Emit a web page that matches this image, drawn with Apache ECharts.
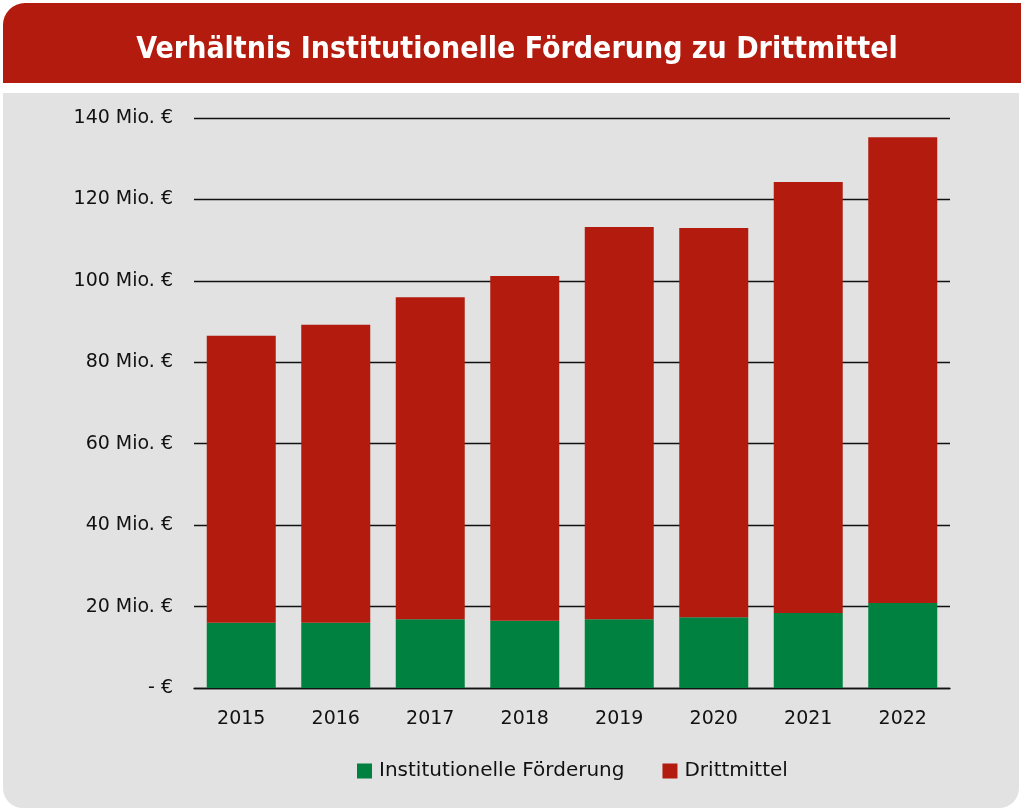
<!DOCTYPE html>
<html>
<head>
<meta charset="utf-8">
<script src="https://cdn.jsdelivr.net/npm/echarts@6/dist/echarts.min.js"></script>
<style>
  html, body { margin: 0; padding: 0; background: #ffffff; }
  #chart { width: 1021px; height: 810px; }
</style>
</head>
<body>
<div id="chart"></div>
<script>
  // data
  var years = ['2015', '2016', '2017', '2018', '2019', '2020', '2021', '2022']
  var institutionell = [16.0, 16.0, 16.9, 16.5, 16.9, 17.4, 18.4, 20.9]
  var drittmittel = [70.5, 73.2, 79.1, 84.7, 96.3, 95.6, 105.9, 114.4]
  var yTicks = [0, 20, 40, 60, 80, 100, 120, 140]

  var red = '#b21b0e'
  var green = '#008140'
  var fontName = '"DejaVu Sans", sans-serif'

  var chart = echarts.init(document.getElementById('chart'))
  var option = {
    backgroundColor: '#ffffff',
    animation: false,
    graphic: [
      {
        type: 'rect',
        z: -10,
        shape: { x: 3, y: 3, width: 1040, height: 80, r: [22, 22, 0, 0] },
        style: { fill: red }
      },
      {
        type: 'rect',
        z: -10,
        shape: { x: 3, y: 93, width: 1016, height: 715, r: [0, 0, 20, 20] },
        style: { fill: '#e1e2e1' }
      },
      {
        type: 'text',
        z: 10,
        x: 517,
        y: 50,
        style: {
          text: 'Verhältnis Institutionelle Förderung zu Drittmittel',
          fill: '#ffffff',
          font: 'bold 30px "DejaVu Sans Condensed", "DejaVu Sans", sans-serif',
          textAlign: 'center',
          textVerticalAlign: 'middle'
        }
      }
    ],
    legend: {
      bottom: 24,
      left: 352,
      itemWidth: 15,
      itemHeight: 15,
      itemGap: 38,
      icon: 'rect',
      textStyle: { fontSize: 20, color: '#111', fontFamily: fontName, padding: [0, 0, 0, 2] },
      data: ['Institutionelle Förderung', 'Drittmittel']
    },
    grid: { left: 194, right: 71, top: 118, bottom: 122 },
    xAxis: {
      type: 'category',
      data: years,
      axisLine: { lineStyle: { color: '#111', width: 1.3 } },
      axisTick: { show: false },
      axisLabel: { fontSize: 19, color: '#111', margin: 22, fontFamily: fontName }
    },
    yAxis: {
      type: 'value',
      min: yTicks[0],
      max: yTicks[yTicks.length - 1],
      interval: 20,
      axisLine: { show: false },
      axisTick: { show: false },
      splitLine: { lineStyle: { color: '#111', width: 1.3 } },
      axisLabel: {
        fontSize: 19,
        color: '#111',
        margin: 21,
        fontFamily: fontName,
        formatter: function (v) { return v === 0 ? '- €' : v + ' Mio. €' }
      }
    },
    series: [
      {
        name: 'Institutionelle Förderung',
        type: 'bar',
        stack: 'total',
        barWidth: '73%',
        itemStyle: { color: green },
        data: institutionell
      },
      {
        name: 'Drittmittel',
        type: 'bar',
        stack: 'total',
        barWidth: '73%',
        itemStyle: { color: red },
        data: drittmittel
      }
    ]
  }
  chart.setOption(option)
</script>
</body>
</html>
